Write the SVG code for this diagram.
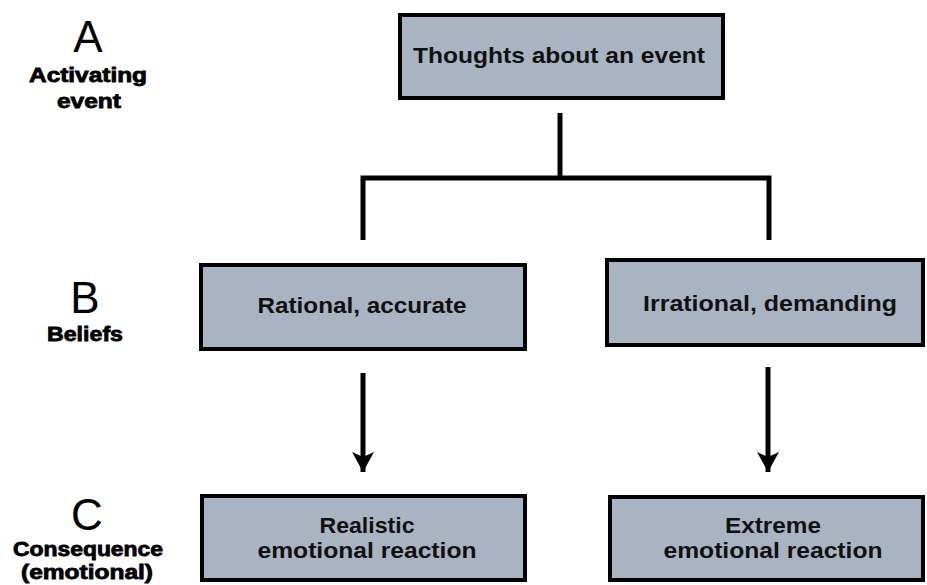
<svg xmlns="http://www.w3.org/2000/svg" width="927" height="585" viewBox="0 0 927 585">
<defs>
<style>
.box{fill:#a9b4c2;stroke:#000;stroke-width:4}
.bt{font-family:"Liberation Sans",Arial,sans-serif;font-weight:bold;font-size:22px;fill:#111;text-anchor:middle}
.big{font-family:"Liberation Sans",Arial,sans-serif;font-size:44px;fill:#000;text-anchor:middle}
.lab{font-family:"Liberation Sans",Arial,sans-serif;font-weight:900;font-size:20px;fill:#000;text-anchor:middle;stroke:#000;stroke-width:0.8}
.con{fill:none;stroke:#000;stroke-width:5}
</style>
<marker id="ah" markerUnits="userSpaceOnUse" markerWidth="24" markerHeight="24" viewBox="0 -12 22 24" refX="20" refY="0" orient="auto">
<path d="M0,-11 L20,0 L0,11 L5,0 z" fill="#000"/>
</marker>
</defs>
<rect width="927" height="585" fill="#fff"/>
<g id="label-a">
<text class="big" x="88" y="52">A</text>
<text class="lab" x="88" y="82" textLength="118" lengthAdjust="spacingAndGlyphs">Activating</text>
<text class="lab" x="89" y="108" textLength="64" lengthAdjust="spacingAndGlyphs">event</text>
</g>
<g id="label-b">
<text class="big" x="85" y="313">B</text>
<text class="lab" x="85" y="341" textLength="76" lengthAdjust="spacingAndGlyphs">Beliefs</text>
</g>
<g id="label-c">
<text class="big" x="87" y="530">C</text>
<text class="lab" x="88" y="556" textLength="150" lengthAdjust="spacingAndGlyphs">Consequence</text>
<text class="lab" x="87" y="579" textLength="132" lengthAdjust="spacingAndGlyphs">(emotional)</text>
</g>
<g id="thoughts">
<rect class="box" x="400" y="15" width="323" height="83"/>
<text class="bt" x="559" y="63" textLength="292" lengthAdjust="spacingAndGlyphs">Thoughts about an event</text>
</g>
<g id="rational">
<rect class="box" x="201" y="265" width="324" height="84"/>
<text class="bt" x="362" y="313" textLength="209" lengthAdjust="spacingAndGlyphs">Rational, accurate</text>
</g>
<g id="irrational">
<rect class="box" x="607" y="260" width="316" height="85"/>
<text class="bt" x="770" y="311" textLength="254" lengthAdjust="spacingAndGlyphs">Irrational, demanding</text>
</g>
<g id="realistic">
<rect class="box" x="202" y="496" width="323" height="84"/>
<text class="bt" x="367" y="533" textLength="95" lengthAdjust="spacingAndGlyphs">Realistic</text>
<text class="bt" x="367" y="558" textLength="219" lengthAdjust="spacingAndGlyphs">emotional reaction</text>
</g>
<g id="extreme">
<rect class="box" x="610" y="497" width="313" height="83"/>
<text class="bt" x="773" y="533" textLength="96" lengthAdjust="spacingAndGlyphs">Extreme</text>
<text class="bt" x="773" y="558" textLength="219" lengthAdjust="spacingAndGlyphs">emotional reaction</text>
</g>
<g id="connectors">
<path class="con" d="M560,113 V178"/>
<path class="con" d="M363,240 V178 H769 V240" stroke-linejoin="miter"/>
<path class="con" d="M363,373 V472" stroke-width="4" marker-end="url(#ah)"/>
<path class="con" d="M768,367 V472" stroke-width="4" marker-end="url(#ah)"/>
</g>
</svg>
